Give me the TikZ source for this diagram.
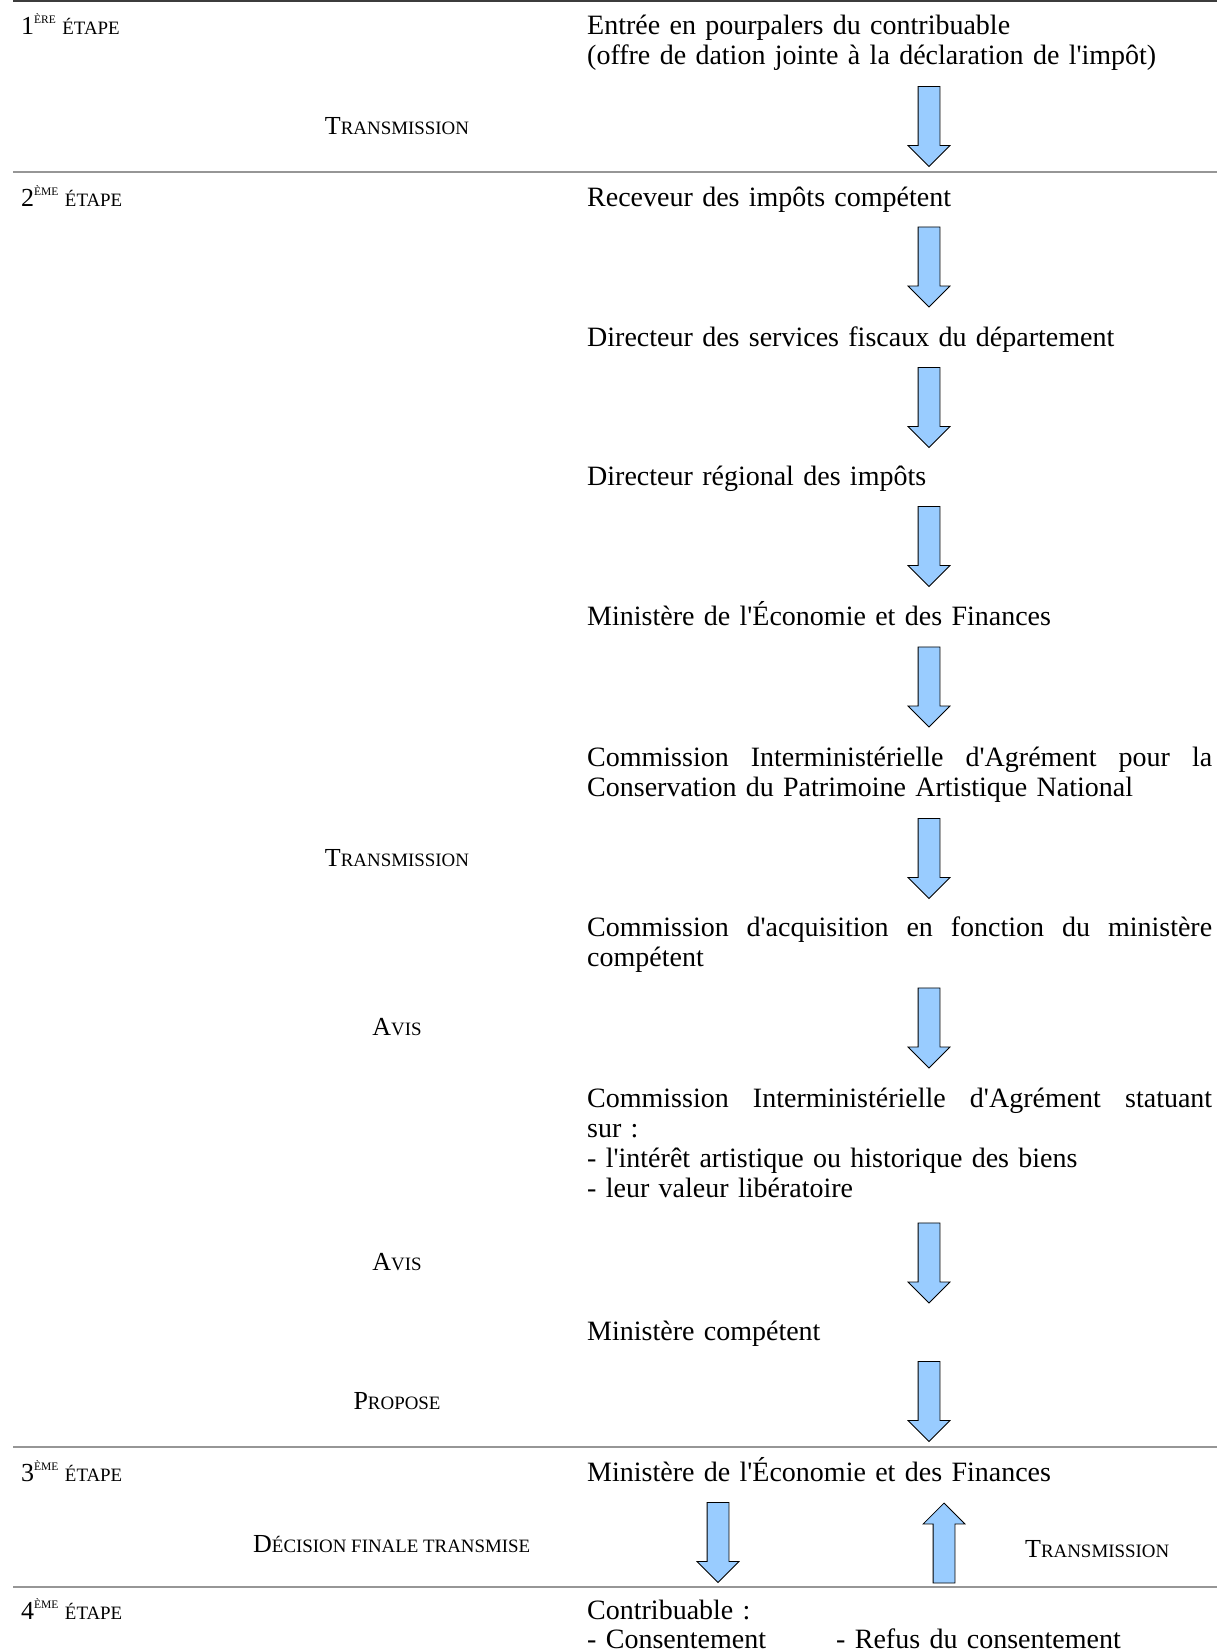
\documentclass[tikz,border=0pt]{standalone}
\usepackage{fontspec}
\setmainfont{Liberation Serif}[Ligatures=TeXOff]
\usetikzlibrary{shapes.arrows}
\definecolor{arrowfill}{HTML}{99CCFF}
\definecolor{rulegray}{HTML}{969696}
\definecolor{ruledark}{HTML}{3C3C3C}
\newcommand{\petitcap}[1]{{\fontsize{18.9}{20}\selectfont\MakeUppercase{#1}}}
\newcommand{\etape}[2]{#1\raisebox{11pt}{\fontsize{11.5}{12}\selectfont\MakeUppercase{#2}}~\petitcap{étape}}
\newcommand{\justline}[1]{\hbox to 625pt{\spaceskip=\fontdimen2\font plus 1fil\relax #1}}
\begin{document}
\begin{tikzpicture}[x=1pt, y=-1pt,
  stage/.style={anchor=base west, inner sep=0pt, font=\fontsize{26}{30}\selectfont},
  body/.style={anchor=base west, inner sep=0pt, text width=630pt, align=left, font=\fontsize{28}{30}\selectfont},
  side/.style={inner sep=0pt, yshift=-5pt, font=\fontsize{26}{30}\selectfont},
  flow/.style={shape=single arrow, draw=black, line width=0.8pt, fill=arrowfill, inner xsep=0pt, inner ysep=10.5pt,
    minimum height=80pt, minimum width=41pt, single arrow head extend=10pt, single arrow tip angle=90},
  down/.style={flow, rotate=-90},
  up/.style={flow, rotate=90},
  rule/.style={draw=rulegray, line width=2pt},
]
\useasboundingbox (0,0) rectangle (1217,1652);
% separations between the stages
\draw[rule, draw=ruledark] (13,1) -- (1217,1);
\draw[rule] (13,171.5) -- (1217,171.5);
\draw[rule] (13,1447) -- (1217,1447);
\draw[rule] (13,1587) -- (1217,1587);
% stages
\node[stage] (s1) at (21,34) {\etape{1}{ère}};
\node[stage] (s2) at (21,206) {\etape{2}{ème}};
\node[stage] (s3) at (21,1481) {\etape{3}{ème}};
\node[stage] (s4) at (21,1619) {\etape{4}{ème}};
% steps of the procedure
\node[body] (entree) at (587,34) {Entrée en pourpalers du contribuable\\(offre de dation jointe à la déclaration de l'impôt)};
\node[body] (receveur) at (587,206) {Receveur des impôts compétent};
\node[body] (dirfisc) at (587,346) {Directeur des services fiscaux du département};
\node[body] (dirreg) at (587,485) {Directeur régional des impôts};
\node[body] (minfin) at (587,625) {Ministère de l'Économie et des Finances};
\node[body] (ciapatr) at (587,766) {\justline{Commission Interministérielle d'Agrément pour la}\\Conservation du Patrimoine Artistique National};
\node[body] (cacq) at (587,936) {\justline{Commission d'acquisition en fonction du ministère}\\compétent};
\node[body] (ciastat) at (587,1107) {\justline{Commission Interministérielle d'Agrément statuant}\\sur :\\- l'intérêt artistique ou historique des biens\\- leur valeur libératoire};
\node[body] (mincomp) at (587,1340) {Ministère compétent};
\node[body] (minfinb) at (587,1481) {Ministère de l'Économie et des Finances};
\node[body, font=\fontsize{28}{29}\selectfont] (contrib) at (587,1619) {Contribuable :\\\makebox[249pt][l]{- Consentement}- Refus du consentement};
% block arrows
\node[down] (a1) at (929,121) {};
\node[down] (a2) at (929,261.5) {};
\node[down] (a3) at (929,402) {};
\node[down] (a4) at (929,541) {};
\node[down] (a5) at (929,681.5) {};
\node[down] (a6) at (929,853) {};
\node[down] (a7) at (929,1022.5) {};
\node[down] (a8) at (929,1257.5) {};
\node[down] (a9) at (929,1396) {};
\node[down] (adown) at (718,1537) {};
\node[up] (aup) at (944,1548.5) {};
% labels beside the arrows
\node[side] (trans1) at (a1 -| 397,0) {T\petitcap{ransmission}};
\node[side] (trans2) at (a6 -| 397,0) {T\petitcap{ransmission}};
\node[side] (avis1) at (a7 -| 397,0) {A\petitcap{vis}};
\node[side] (avis2) at (a8 -| 397,0) {A\petitcap{vis}};
\node[side] (propose) at (a9 -| 397,0) {P\petitcap{ropose}};
\node[side, anchor=west, yshift=-2pt] (decision) at (adown -| 253,0) {D\petitcap{écision finale transmise}};
\node[side, anchor=west, yshift=4pt] (trans3) at (aup -| 1025,0) {T\petitcap{ransmission}};
\end{tikzpicture}
\end{document}
